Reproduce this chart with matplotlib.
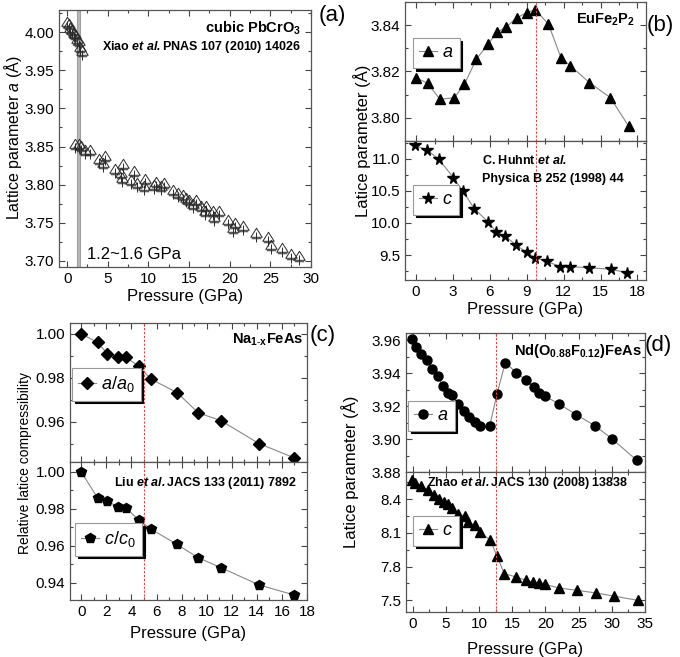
import matplotlib
matplotlib.use("Agg")
import matplotlib.pyplot as plt
from matplotlib.path import Path
from matplotlib.lines import Line2D
from matplotlib.ticker import MultipleLocator, FormatStrFormatter

plt.rcParams['font.family'] = ['Liberation Sans', 'DejaVu Sans']
plt.rcParams['mathtext.fontset'] = 'custom'
plt.rcParams['mathtext.rm'] = 'Liberation Sans'
plt.rcParams['mathtext.it'] = 'Liberation Sans:italic'
plt.rcParams['mathtext.bf'] = 'Liberation Sans:bold'
plt.rcParams['mathtext.cal'] = 'Liberation Sans:italic:bold'

# ---------------- data ----------------
# (a) cubic PbCrO3
pbcro3_p = [0.0, 0.2, 0.4, 0.6, 0.8, 1.0, 1.2, 1.4, 1.6, 1.8,
            1.0, 1.4, 1.73, 2.15, 2.85, 3.9, 4.6, 4.4, 5.95, 6.85, 6.57, 6.7,
            8.2, 7.9, 8.6, 9.6, 9.5, 10.9, 10.7, 11.9, 11.5, 12.97, 13.6,
            14.2, 14.6, 15.0, 15.9, 15.45, 16.5, 17.1, 16.9, 17.9, 18.7, 18.1,
            19.8, 20.6, 21.6, 20.4, 23.2, 24.7, 25.1, 26.4, 27.6, 28.5]
pbcro3_a = [4.013, 4.010, 4.005, 4.003, 3.999, 3.997, 3.991, 3.989, 3.981, 3.975,
            3.853, 3.8535, 3.851, 3.845, 3.845, 3.834, 3.838, 3.828, 3.821, 3.827, 3.815, 3.809,
            3.8175, 3.806, 3.802, 3.808, 3.798, 3.804, 3.800, 3.802, 3.798, 3.793, 3.789,
            3.787, 3.7825, 3.780, 3.780, 3.775, 3.7715, 3.772, 3.765, 3.766, 3.766, 3.758,
            3.754, 3.750, 3.746, 3.743, 3.736, 3.731, 3.721, 3.717, 3.709, 3.706]
pbcro3_band = (1.2, 1.6)

# (b) EuFe2P2
eu_p_a = [0.0, 0.93, 1.94, 3.11, 3.93, 4.89, 5.85, 6.58, 7.35, 8.17, 8.99, 9.7,
          10.77, 11.78, 12.54, 14.1, 15.8, 17.3]
eu_a = [3.8173, 3.8149, 3.808, 3.8087, 3.8145, 3.8252, 3.8318, 3.8369, 3.8393,
        3.8431, 3.8454, 3.8467, 3.8404, 3.826, 3.8225, 3.8152, 3.8087, 3.7963]
eu_p_c = [-0.1, 0.88, 1.83, 3.03, 3.8, 4.75, 5.85, 6.53, 7.27, 8.11, 8.99, 9.67,
          10.63, 11.72, 12.49, 14.04, 15.82, 17.19]
eu_c = [11.21, 11.14, 11.0, 10.71, 10.5, 10.22, 10.02, 9.86, 9.79, 9.66, 9.54,
        9.46, 9.40, 9.32, 9.32, 9.30, 9.28, 9.22]
eu_transition = 9.75

# (c) Na1-xFeAs
na_p = [0.0, 1.3, 2.07, 2.9, 3.6, 4.6, 5.57, 7.64, 9.33, 11.15, 14.17, 16.93]
na_a = [1.000, 0.9962, 0.991, 0.9897, 0.9893, 0.9852, 0.9794, 0.9733, 0.9641,
        0.9605, 0.9501, 0.9437]
na_c = [1.000, 0.9859, 0.9843, 0.9811, 0.9802, 0.9739, 0.969, 0.9607, 0.9535,
        0.9481, 0.9388, 0.9334]
na_transition = 5.0

# (d) Nd(O0.88F0.12)FeAs
nd_p_a = [-0.1, 0.5, 1.27, 2.17, 2.92, 3.77, 4.58, 5.27, 5.93, 6.83, 7.68, 8.43,
          9.44, 10.09, 11.6, 12.71, 13.96, 15.62, 17.08, 18.22, 19.08, 19.98,
          21.99, 24.65, 27.5, 30.0, 33.8]
nd_a = [3.9606, 3.956, 3.952, 3.9483, 3.9428, 3.9381, 3.9322, 3.928, 3.9266,
        3.9215, 3.9169, 3.9134, 3.9104, 3.9079, 3.9077, 3.9276, 3.9465, 3.9404,
        3.9357, 3.9316, 3.9282, 3.926, 3.9215, 3.9149, 3.908, 3.9003, 3.887]
nd_p_c = [-0.1, 0.4, 1.3, 2.26, 3.17, 3.92, 4.67, 5.28, 5.93, 6.83, 7.94, 8.34,
          9.34, 10.2, 11.7, 12.7, 13.8, 15.6, 17.1, 18.1, 19.1, 19.98, 22.0,
          24.76, 27.66, 30.3, 33.9]
nd_c = [8.569, 8.548, 8.518, 8.479, 8.441, 8.406, 8.375, 8.361, 8.325, 8.272,
        8.248, 8.197, 8.168, 8.108, 8.034, 7.895, 7.738, 7.708, 7.678, 7.663,
        7.654, 7.642, 7.610, 7.589, 7.565, 7.538, 7.500]
nd_transition = 12.6

# ---------------- figure ----------------
W, H = 680, 657
fig = plt.figure(figsize=(W / 100, H / 100), dpi=100)

def ax_px(l, t, r, b):
    return fig.add_axes([l / W, 1 - b / H, (r - l) / W, (b - t) / H])

def style(ax, xmaj, xmin, ymaj, ymin, xlabels=True):
    ax.xaxis.set_major_locator(MultipleLocator(xmaj))
    ax.xaxis.set_minor_locator(MultipleLocator(xmin))
    ax.yaxis.set_major_locator(MultipleLocator(ymaj))
    ax.yaxis.set_minor_locator(MultipleLocator(ymin))
    ax.tick_params(which='both', direction='in', top=True, right=True,
                   labelsize=11, colors='#444444', labelcolor='black')
    ax.tick_params(which='major', length=4, width=0.8)
    ax.tick_params(which='minor', length=2, width=0.8)
    if not xlabels:
        ax.tick_params(labelbottom=False)
    for s in ax.spines.values():
        s.set_color('#555555')
        s.set_linewidth(0.9)

LINE = dict(color='#888888', lw=0.8)

def legend(ax, marker, ms, label, x, y):
    h = Line2D([], [], marker=marker, color='#888888', lw=0.8, ms=ms,
               markerfacecolor='black', markeredgecolor='black')
    lg = ax.legend([h], [label], loc='upper left', bbox_to_anchor=(x, y),
                   borderaxespad=0, frameon=True, fancybox=False,
                   edgecolor='#999999', fontsize=13, handlelength=1.0,
                   handletextpad=0.25, borderpad=0.35,
                   shadow={'color': 'black', 'alpha': 1})
    lg.get_frame().set_linewidth(0.8)
    return lg

# ---- (a) ----
tri_plus = Path([(0, 0.55), (-0.6, -0.4), (0.6, -0.4), (0, 0.55),
                 (0, 0.1), (0, -0.95), (-0.5, -0.55), (0.5, -0.55)],
                [Path.MOVETO, Path.LINETO, Path.LINETO, Path.CLOSEPOLY,
                 Path.MOVETO, Path.LINETO, Path.MOVETO, Path.LINETO])
axa = ax_px(59, 10, 311, 267)
axa.axvspan(*pbcro3_band, facecolor='#b8b8b8', edgecolor='#a0a0a0', lw=0.8)
axa.plot(pbcro3_p, pbcro3_a, ls='none', marker=tri_plus, ms=13,
         markerfacecolor='none', markeredgecolor='#2a2a2a', markeredgewidth=0.7)
axa.set_xlim(-1, 30)
axa.set_ylim(3.692, 4.029)
style(axa, 5, 2.5, 0.05, 0.025)
axa.yaxis.set_major_formatter(FormatStrFormatter('%.2f'))
axa.set_xlabel('Pressure (GPa)', fontsize=12, labelpad=2)
fig.text(13 / W, 1 - 138 / H, 'Lattice parameter $a$ (Å)', rotation=90,
         ha='center', va='center', fontsize=11.5)
axa.text(0.96, 0.93, r'cubic PbCrO$_\mathbf{3}$', transform=axa.transAxes,
         ha='right', va='center', fontsize=10.5, fontweight='bold')
axa.text(0.96, 0.855, r'Xiao $\mathcal{et\ al.}$PNAS 107 (2010) 14026',
         transform=axa.transAxes, ha='right', va='center', fontsize=9, fontweight='bold')
axa.text(0.11, 0.05, '1.2~1.6 GPa', transform=axa.transAxes, ha='left',
         va='center', fontsize=12)
fig.text(319 / W, 1 - 16 / H, '(a)', fontsize=16, ha='left', va='center')

# ---- (b) ----
axb1 = ax_px(405, 2, 646, 141)
axb2 = ax_px(405, 141, 646, 280)
axb1.plot(eu_p_a, eu_a, marker='^', ms=7, mfc='black', mec='black', **LINE)
axb2.plot(eu_p_c, eu_c, marker='*', ms=8.5, mfc='black', mec='black', **LINE)
for ax in (axb1, axb2):
    ax.axvline(eu_transition, color='#e04848', lw=0.8, ls=(0, (2, 1.5)))
    ax.set_xlim(-0.9, 18.7)
axb1.set_ylim(3.790, 3.850)
axb2.set_ylim(9.11, 11.28)
style(axb1, 3, 1.5, 0.02, 0.01, xlabels=False)
style(axb2, 3, 1.5, 0.5, 0.25)
axb1.yaxis.set_major_formatter(FormatStrFormatter('%.2f'))
axb2.yaxis.set_major_formatter(FormatStrFormatter('%.1f'))
axb2.set_xlabel('Pressure (GPa)', fontsize=12, labelpad=2)
fig.text(362 / W, 1 - 141 / H, 'Latice parameter (Å)', rotation=90,
         ha='center', va='center', fontsize=12)
legend(axb1, '^', 7, '$a$', 0.033, 0.74)
legend(axb2, '*', 8.5, '$c$', 0.033, 0.683)
axb1.text(0.955, 0.87, r'EuFe$_\mathbf{2}$P$_\mathbf{2}$', transform=axb1.transAxes,
          ha='right', va='center', fontsize=10.5, fontweight='bold')
axb2.text(0.32, 0.86, r'C. Huhnt $\mathcal{et\ al.}$', transform=axb2.transAxes,
          ha='left', va='center', fontsize=9, fontweight='bold')
axb2.text(0.32, 0.73, 'Physica B 252 (1998) 44', transform=axb2.transAxes,
          ha='left', va='center', fontsize=9, fontweight='bold')
fig.text(647 / W, 1 - 25 / H, '(b)', fontsize=16, ha='left', va='center')

# ---- (c) ----
axc1 = ax_px(70, 323, 307, 462)
axc2 = ax_px(70, 462, 307, 600)
axc1.plot(na_p, na_a, marker='D', ms=6, mfc='black', mec='black', **LINE)
axc2.plot(na_p, na_c, marker='p', ms=7.5, mfc='black', mec='black', **LINE)
for ax in (axc1, axc2):
    ax.axvline(na_transition, color='#e04848', lw=0.8, ls=(0, (2, 1.5)))
    ax.set_xlim(-0.9, 18)
axc1.set_ylim(0.9417, 1.005)
axc2.set_ylim(0.9306, 1.0054)
style(axc1, 2, 1, 0.02, 0.01, xlabels=False)
style(axc2, 2, 1, 0.02, 0.01)
axc1.yaxis.set_major_formatter(FormatStrFormatter('%.2f'))
axc2.yaxis.set_major_formatter(FormatStrFormatter('%.2f'))
axc2.set_xlabel('Pressure (GPa)', fontsize=12, labelpad=5)
fig.text(25 / W, 1 - 463 / H, 'Relative latice compressibility', rotation=90,
         ha='center', va='center', fontsize=10)
legend(axc1, 'D', 6, '$a/a_0$', 0.008, 0.676)
legend(axc2, 'p', 7.5, '$c/c_0$', 0.021, 0.558)
axc1.text(0.985, 0.88, r'Na$_\mathbf{1\text{-}x}$FeAs', transform=axc1.transAxes,
          ha='right', va='center', fontsize=10.5, fontweight='bold')
axc2.text(0.955, 0.85, r'Liu $\mathcal{et\ al.}$JACS 133 (2011) 7892',
          transform=axc2.transAxes, ha='right', va='center', fontsize=9,
          fontweight='bold')
fig.text(310 / W, 1 - 335 / H, '(c)', fontsize=16, ha='left', va='center')

# ---- (d) ----
axd1 = ax_px(406, 333, 645, 472)
axd2 = ax_px(406, 472, 645, 612)
axd1.plot(nd_p_a, nd_a, marker='o', ms=6.5, mfc='black', mec='black', **LINE)
axd2.plot(nd_p_c, nd_c, marker='^', ms=6.5, mfc='black', mec='black', **LINE)
for ax in (axd1, axd2):
    ax.axvline(nd_transition, color='#e04848', lw=0.8, ls=(0, (2, 1.5)))
    ax.set_xlim(-1, 35)
axd1.set_ylim(3.88, 3.9645)
axd2.set_ylim(7.396, 8.643)
style(axd1, 5, 2.5, 0.02, 0.01, xlabels=False)
style(axd2, 5, 2.5, 0.3, 0.15)
axd1.yaxis.set_major_formatter(FormatStrFormatter('%.2f'))
axd2.yaxis.set_major_formatter(FormatStrFormatter('%.1f'))
axd2.set_xlabel('Pressure (GPa)', fontsize=12, labelpad=8)
fig.text(350 / W, 1 - 472 / H, 'Latice parameter (Å)', rotation=90,
         ha='center', va='center', fontsize=12)
legend(axd1, 'o', 6.5, '$a$', 0.008, 0.511)
legend(axd2, '^', 6.5, '$c$', 0.029, 0.686)
axd1.text(0.985, 0.87, r'Nd(O$_\mathbf{0.88}$F$_\mathbf{0.12}$)FeAs',
          transform=axd1.transAxes, ha='right', va='center', fontsize=10.5,
          fontweight='bold')
axd2.text(0.51, 0.92, r'Zhao $\mathcal{et\ al.}$JACS 130 (2008) 13838',
          transform=axd2.transAxes, ha='center', va='center', fontsize=9,
          fontweight='bold')
fig.text(645 / W, 1 - 345 / H, '(d)', fontsize=16, ha='left', va='center')

fig.savefig('out.png', dpi=100)
